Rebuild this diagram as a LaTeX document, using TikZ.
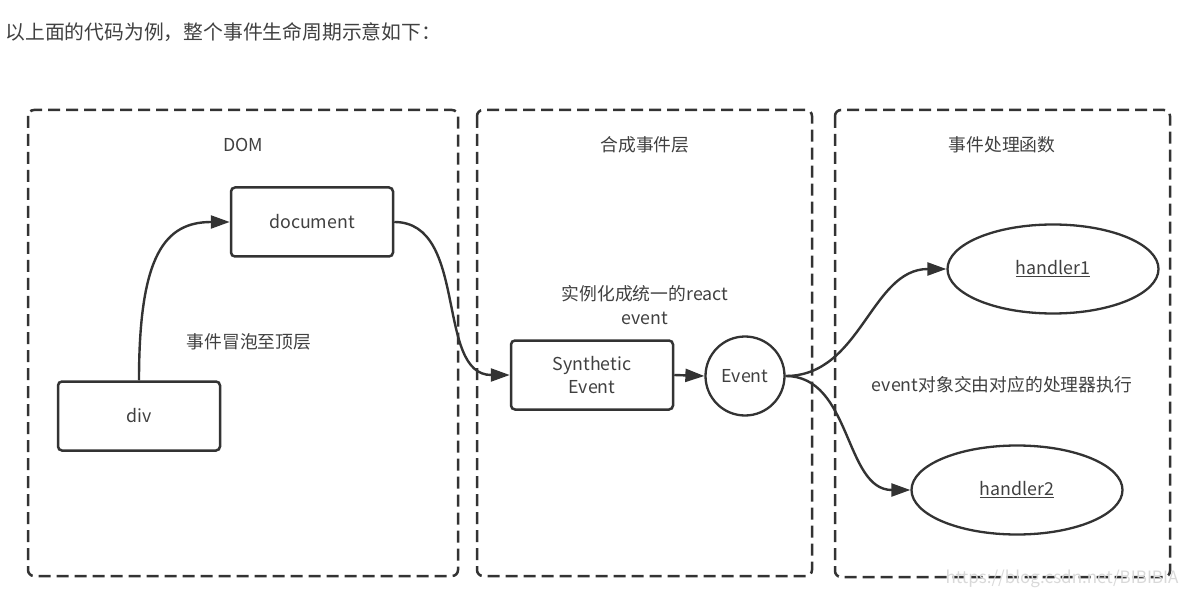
\documentclass[tikz,border=0pt]{standalone}
\usepackage{fontspec}
\newfontfamily\cjk{Noto Sans CJK SC}
\usetikzlibrary{arrows.meta,shapes.geometric}
\definecolor{linegray}{HTML}{333333}
\definecolor{textgray}{HTML}{404040}
\newcommand{\diagfont}{\cjk\fontsize{17.8}{23.5}\selectfont}

\begin{document}
\begin{tikzpicture}[x=1pt, y=-1pt,
    layer/.style={draw=linegray, line width=2.5pt, dash pattern=on 12pt off 6pt, rounded corners=6pt},
    box/.style={rectangle, draw=linegray, line width=2.5pt, rounded corners=4pt, minimum width=162pt, minimum height=69pt, inner sep=0pt, text=textgray, font=\diagfont, align=center},
    handler/.style={ellipse, draw=linegray, line width=2.3pt, minimum width=211pt, minimum height=89pt, inner sep=0pt, text=textgray, font=\diagfont},
    label/.style={text=textgray, font=\diagfont, align=center},
    arr/.style={-{Triangle[length=19pt,width=13pt]}, line width=2.4pt, draw=linegray}
]
    \useasboundingbox (0,0) rectangle (1190,601);

    \node[anchor=west, text=textgray, font=\cjk\fontsize{19.8}{24}\selectfont] (intro) at (2,32) {以上面的代码为例，整个事件生命周期示意如下：};

    % layers
    \draw[layer] (28,110) rectangle (458,576);
    \draw[layer] (477,110) rectangle (812,576);
    \draw[layer] (835,110) rectangle (1170,577);
    \node[label] (domtitle) at (243,145) {DOM};
    \node[label] (syntitle) at (645,145) {合成事件层};
    \node[label] (fntitle) at (1002,145) {事件处理函数};

    \node[box] (doc) at (312,222) {document};
    \node[box] (div) at (139,416) {div};
    \node[box] (syn) at (592,375) {Synthetic\\Event};
    \node[circle, draw=linegray, line width=2.3pt, minimum size=79pt, inner sep=0pt, text=textgray, font=\diagfont] (ev) at (745,376) {Event};
    \node[handler] (hone) at (1053,269) {\underline{handler1}};
    \node[handler] (htwo) at (1017,490) {\underline{handler2}};

    \node[label] (bubble) at (249,342) {事件冒泡至顶层};
    \node[label] (inst) at (645,305) {实例化成统一的react\\event};
    \node[label] (exec) at (1002,385) {event对象交由对应的处理器执行};

    \draw[arr] (div.north) .. controls +(0,-125) and +(-65,0) .. (doc.west);
    \draw[arr] (doc.east) to[out=0,in=180] (syn.west);
    \draw[arr] (syn.east) -- (ev.west);
    \draw[arr] (ev.east) to[out=0,in=180] (hone.west);
    \draw[arr] (ev.east) to[out=0,in=180] (htwo.west);

    \node[anchor=east, text=gray!30, font=\cjk\fontsize{17}{20}\selectfont] (mark) at (1182,579) {https://blog.csdn.net/BIBIBIA};
\end{tikzpicture}
\end{document}
